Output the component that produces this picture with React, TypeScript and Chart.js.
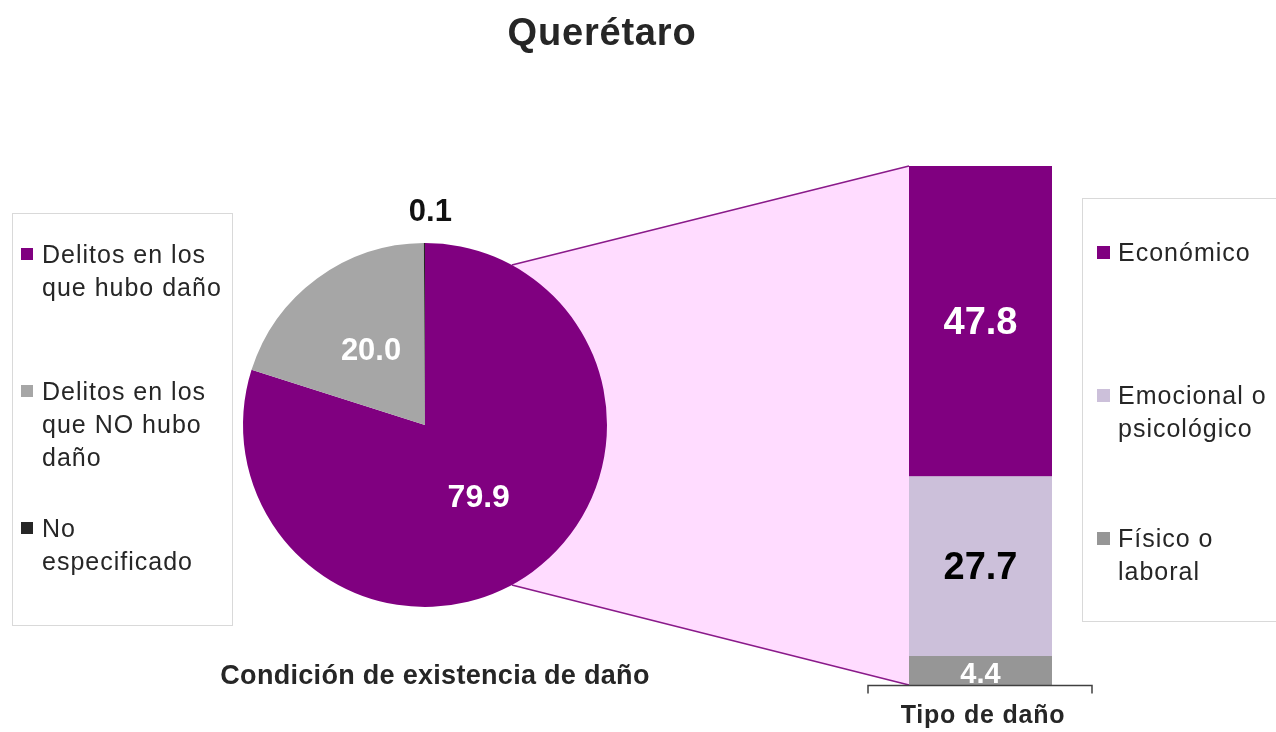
import React, { useEffect, useRef } from "react";
import { Chart, registerables } from "chart.js";
Chart.register(...registerables);

// ---------- data ----------
const chartTitle = "Querétaro";
const pieCategories = ["Delitos en los\nque hubo daño", "Delitos en los\nque NO hubo\ndaño", "No\nespecificado"];
const pieValues = [79.9, 20.0, 0.1];
const barCategories = ["Económico", "Emocional o\npsicológico", "Físico o\nlaboral"];
const barValues = [47.8, 27.7, 4.4];
const pieAxisTitle = "Condición de existencia de daño";
const barAxisTitle = "Tipo de daño";

// ---------- styles ----------
const pieColors = ["#800080", "#A6A6A6", "#262626"];
const pieLabelColors = ["#FFFFFF", "#FFFFFF", "#111111"];
const pieLabelSizes = [32, 31, 31];
const barColors = ["#800080", "#CCC0DA", "#969696"];
const barLabelColors = ["#FFFFFF", "#000000", "#FFFFFF"];
const barLabelSizes = [38, 38, 29];
const barLabelDy = [2, 2, 4];
const FONT = '"Liberation Sans", Arial, Helvetica, sans-serif';
const PIE_LEFT = 165;
const PIE_TOP = 165;
const PIE_SIZE = 520;
const PIE_PAD = 78;
const CONNECTOR_ANGLE = 61.5; // degrees from horizontal
const PINK = "#FFDCFF";
const LINE_PURPLE = "#8A1A8A";

const pieLegendTops = [238, 375, 512];
const barLegendTops = [236, 379, 522];

export default function App() {
  const pieRef = useRef<HTMLCanvasElement>(null);
  const barRef = useRef<HTMLCanvasElement>(null);

  useEffect(() => {
    const pieLabelPlugin = {
      id: "pieLabels",
      afterDatasetsDraw(chart: any) {
        const ctx = chart.ctx;
        const meta = chart.getDatasetMeta(0);
        meta.data.forEach((arc: any, i: number) => {
          const p = arc.getProps(["x", "y", "startAngle", "endAngle", "outerRadius"], true);
          const mid = (p.startAngle + p.endAngle) / 2;
          const small = pieValues[i] < 1;
          const dist = small ? p.outerRadius + 31 : p.outerRadius / 2;
          const x = p.x + Math.cos(mid) * dist + (small ? 6 : 0);
          const y = p.y + Math.sin(mid) * dist;
          ctx.save();
          ctx.font = `bold ${pieLabelSizes[i]}px ${FONT}`;
          ctx.fillStyle = pieLabelColors[i];
          ctx.textAlign = "center";
          ctx.textBaseline = "middle";
          ctx.fillText(pieValues[i].toFixed(1), x, y);
          ctx.restore();
        });
      },
    };

    const pieChart = new Chart(pieRef.current!, {
      type: "pie",
      data: {
        labels: pieCategories.map((s) => s.replace(/\n/g, " ")),
        datasets: [{ data: pieValues, backgroundColor: pieColors, borderWidth: 0 }],
      },
      options: {
        responsive: false,
        animation: false,
        devicePixelRatio: 1,
        layout: { padding: PIE_PAD },
        plugins: { legend: { display: false }, tooltip: { enabled: false } },
      },
      plugins: [pieLabelPlugin],
    });

    const connectorPlugin = {
      id: "connector",
      beforeDatasetsDraw(chart: any) {
        const arc: any = pieChart.getDatasetMeta(0).data[0];
        if (!arc) return;
        const cx = arc.x + PIE_LEFT;
        const cy = arc.y + PIE_TOP;
        const r = arc.outerRadius;
        const n = chart.data.datasets.length;
        const topEl: any = chart.getDatasetMeta(n - 1).data[0];
        const botEl: any = chart.getDatasetMeta(0).data[0];
        const left = topEl.x - topEl.width / 2;
        const topY = topEl.y;
        const botY = botEl.base;
        const a = (CONNECTOR_ANGLE * Math.PI) / 180;
        const p1 = { x: cx + r * Math.cos(-a), y: cy + r * Math.sin(-a) };
        const p2 = { x: cx + r * Math.cos(a), y: cy + r * Math.sin(a) };
        const ctx = chart.ctx;
        ctx.save();
        ctx.beginPath();
        ctx.moveTo(cx, cy);
        ctx.lineTo(p1.x, p1.y);
        ctx.lineTo(left, topY);
        ctx.lineTo(left, botY);
        ctx.lineTo(p2.x, p2.y);
        ctx.closePath();
        ctx.fillStyle = PINK;
        ctx.fill();
        ctx.strokeStyle = LINE_PURPLE;
        ctx.lineWidth = 1.6;
        ctx.beginPath();
        ctx.moveTo(p1.x, p1.y);
        ctx.lineTo(left, topY);
        ctx.moveTo(p2.x, p2.y);
        ctx.lineTo(left, botY);
        ctx.stroke();
        ctx.restore();
      },
      afterDatasetsDraw(chart: any) {
        const ctx = chart.ctx;
        const n = chart.data.datasets.length;
        const area = chart.chartArea;
        // value labels
        for (let d = 0; d < n; d++) {
          const el: any = chart.getDatasetMeta(d).data[0];
          const idx = n - 1 - d;
          ctx.save();
          ctx.beginPath();
          ctx.rect(area.left, area.top, area.right - area.left, area.bottom - area.top);
          ctx.clip();
          ctx.font = `bold ${barLabelSizes[idx]}px ${FONT}`;
          ctx.fillStyle = barLabelColors[idx];
          ctx.textAlign = "center";
          ctx.textBaseline = "middle";
          ctx.fillText(barValues[idx].toFixed(1), el.x, (el.y + el.base) / 2 + barLabelDy[idx]);
          ctx.restore();
        }
        // bracket under the bar
        const botEl: any = chart.getDatasetMeta(0).data[0];
        const l = botEl.x - botEl.width / 2 - 41;
        const rr = botEl.x + botEl.width / 2 + 40;
        const y = botEl.base + 0.5;
        ctx.save();
        ctx.strokeStyle = "#404040";
        ctx.lineWidth = 1.5;
        ctx.beginPath();
        ctx.moveTo(l, y + 8);
        ctx.lineTo(l, y);
        ctx.lineTo(rr, y);
        ctx.lineTo(rr, y + 8);
        ctx.stroke();
        ctx.restore();
      },
    };

    const datasets = barCategories
      .map((c, i) => ({
        label: c.replace(/\n/g, " "),
        data: [barValues[i]],
        backgroundColor: barColors[i],
        borderWidth: 0,
        barPercentage: 1,
        categoryPercentage: 1,
      }))
      .reverse();
    const total = barValues.reduce((s, v) => s + v, 0);

    const barChart = new Chart(barRef.current!, {
      type: "bar",
      data: { labels: [barAxisTitle], datasets },
      options: {
        responsive: false,
        animation: false,
        devicePixelRatio: 1,
        layout: { padding: { left: 909, right: 224, top: 166, bottom: 47 } },
        scales: {
          x: { display: false, stacked: true },
          y: { display: false, stacked: true, min: 0, max: total },
        },
        plugins: { legend: { display: false }, tooltip: { enabled: false } },
      },
      plugins: [connectorPlugin],
    });

    return () => {
      barChart.destroy();
      pieChart.destroy();
    };
  }, []);

  const legendText: React.CSSProperties = {
    position: "absolute",
    fontFamily: FONT,
    fontSize: 25,
    letterSpacing: "1px",
    lineHeight: "33px",
    color: "#262626",
    whiteSpace: "pre-line",
  };

  return (
    <div
      style={{
        position: "absolute",
        left: 0,
        top: 0,
        width: 1276,
        height: 732,
        background: "#FFFFFF",
        overflow: "hidden",
        fontFamily: FONT,
      }}
    >
      <canvas ref={barRef} width={1276} height={732} style={{ position: "absolute", left: 0, top: 0, zIndex: 1 }} />
      <canvas
        ref={pieRef}
        width={PIE_SIZE}
        height={PIE_SIZE}
        style={{ position: "absolute", left: PIE_LEFT, top: PIE_TOP, width: PIE_SIZE, height: PIE_SIZE, zIndex: 2 }}
      />
      <div
        style={{
          position: "absolute",
          left: 0,
          width: 1204,
          top: 13,
          textAlign: "center",
          fontSize: 38,
          fontWeight: "bold",
          letterSpacing: "0.8px",
          lineHeight: "38px",
          color: "#262626",
          zIndex: 3,
        }}
      >
        {chartTitle}
      </div>
      {/* left legend */}
      <div
        style={{
          position: "absolute",
          left: 12,
          top: 213,
          width: 219,
          height: 411,
          border: "1px solid #D9D9D9",
          zIndex: 3,
          background: "transparent",
        }}
      />
      {pieCategories.map((c, i) => (
        <React.Fragment key={"pl" + i}>
          <div
            style={{
              position: "absolute",
              left: 21,
              top: pieLegendTops[i] + 10,
              width: 12,
              height: 12,
              background: pieColors[i],
              zIndex: 3,
            }}
          />
          <div style={{ ...legendText, left: 42, top: pieLegendTops[i], zIndex: 3 }}>{c}</div>
        </React.Fragment>
      ))}
      {/* right legend */}
      <div
        style={{
          position: "absolute",
          left: 1082,
          top: 198,
          width: 220,
          height: 422,
          border: "1px solid #D9D9D9",
          zIndex: 3,
        }}
      />
      {barCategories.map((c, i) => (
        <React.Fragment key={"bl" + i}>
          <div
            style={{
              position: "absolute",
              left: 1097,
              top: barLegendTops[i] + 10,
              width: 13,
              height: 13,
              background: barColors[i],
              zIndex: 3,
            }}
          />
          <div style={{ ...legendText, left: 1118, top: barLegendTops[i], zIndex: 3 }}>{c}</div>
        </React.Fragment>
      ))}
      <div
        style={{
          position: "absolute",
          left: 135,
          width: 600,
          top: 662,
          textAlign: "center",
          fontSize: 27,
          fontWeight: "bold",
          letterSpacing: "0.3px",
          lineHeight: "27px",
          color: "#262626",
          zIndex: 3,
        }}
      >
        {pieAxisTitle}
      </div>
      <div
        style={{
          position: "absolute",
          left: 833,
          width: 300,
          top: 702,
          textAlign: "center",
          fontSize: 25,
          fontWeight: "bold",
          letterSpacing: "0.8px",
          lineHeight: "25px",
          color: "#262626",
          zIndex: 3,
        }}
      >
        {barAxisTitle}
      </div>
    </div>
  );
}
